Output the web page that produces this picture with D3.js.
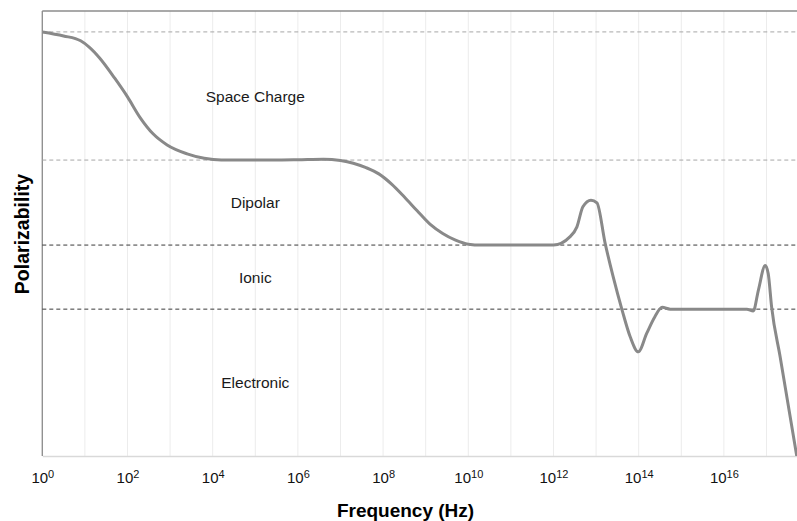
<!DOCTYPE html>
<html>
<head>
<meta charset="utf-8">
<script src="https://cdn.jsdelivr.net/npm/d3@7"></script>
<style>
  html, body { margin: 0; padding: 0; background: #fff; }
  svg { display: block; }
</style>
</head>
<body>
<svg id="chart" width="797" height="521"></svg>
<script>
// Frequency given as log10(Hz); polarizability in arbitrary units.
const logFreq = [0, 0.5, 0.9, 1.1, 1.35, 1.7, 2.0, 2.3, 2.6, 2.93, 3.4, 3.8, 4.2, 5.0, 6.0, 6.6,
  7.0, 7.3, 7.6, 7.9, 8.2, 8.5, 8.8, 9.1, 9.4, 9.7, 10.0, 10.3, 11.0, 12.0, 12.39, 12.55,
  12.69, 12.88, 13.02, 13.21, 13.40, 13.61, 13.80, 13.99, 14.19, 14.38, 14.55, 14.74, 15.5,
  16.54, 16.69, 16.81, 16.97, 17.04, 17.12, 17.32, 17.71];
const polarizability = [95.3, 94.4, 93.3, 91.9, 89.4, 84.9, 80.7, 76.0, 72.4, 69.9, 67.9, 66.9, 66.5, 66.5, 66.6, 66.7,
  66.4, 65.8, 64.8, 63.4, 61.1, 58.2, 55.1, 52.1, 50.0, 48.5, 47.6, 47.4, 47.4, 47.4, 49.3, 51.5,
  56.0, 57.5, 56.9, 47.9, 40.3, 32.8, 26.8, 23.4, 27.6, 31.3, 33.4, 33.0, 33.0,
  33.0, 32.6, 37.3, 42.8, 41.0, 33.5, 22.3, 0.0];

// Mechanism plateaus (dashed reference levels) and their labels.
const mechanisms = ["Space Charge", "Dipolar", "Ionic", "Electronic"];
const levels = [95.3, 66.5, 47.4, 33.0];
const levelStyle = ["light", "light", "dark", "dark"];
const labelAtLogFreq = 5;

const tickExponents = [0, 2, 4, 6, 8, 10, 12, 14, 16];
const gridExponents = d3.range(0, 19);

const W = 797, H = 521;
const margin = { left: 42.3, top: 11, bottom: 65 };
const plotRight = 42.3 + 18 * 42.6;

const svg = d3.select("#chart");

const x = d3.scaleLinear().domain([0, 18]).range([margin.left, plotRight]);
const y = d3.scaleLinear().domain([0, 100]).range([H - margin.bottom, margin.top]);
const yBottom = y(0), yTop = y(100);

svg.append("defs").append("clipPath").attr("id", "plot-clip")
  .append("rect")
  .attr("x", margin.left).attr("y", yTop)
  .attr("width", plotRight - margin.left).attr("height", yBottom - yTop);

// Vertical decade gridlines
svg.append("g")
  .selectAll("line")
  .data(gridExponents)
  .join("line")
  .attr("x1", d => x(d)).attr("x2", d => x(d))
  .attr("y1", yTop).attr("y2", yBottom)
  .attr("stroke", "#ececec")
  .attr("stroke-width", 1);

// Bottom axis with 10^n labels
const xAxis = d3.axisBottom(x)
  .tickValues(tickExponents)
  .tickSize(0)
  .tickSizeOuter(0)
  .tickFormat(() => "");

const gx = svg.append("g")
  .attr("transform", `translate(0,${yBottom})`)
  .call(xAxis);
gx.select(".domain").attr("stroke", "#d9d9d9").attr("stroke-width", 1.3);
gx.selectAll(".tick text").each(function (d) {
  const t = d3.select(this)
    .attr("y", 26.7)
    .attr("dy", null)
    .attr("fill", "#111")
    .attr("font-family", "'Liberation Sans', Arial, sans-serif")
    .attr("font-size", 15)
    .attr("text-anchor", "middle");
  t.text(null);
  t.append("tspan").text("10");
  t.append("tspan").attr("dy", -5).attr("font-size", 11).text(String(d));
});

// Left axis line and top border
svg.append("line")
  .attr("x1", margin.left).attr("x2", margin.left)
  .attr("y1", yTop).attr("y2", yBottom)
  .attr("stroke", "#8c8c8c").attr("stroke-width", 1.3);
svg.append("line")
  .attr("x1", margin.left).attr("x2", plotRight)
  .attr("y1", yTop).attr("y2", yTop)
  .attr("stroke", "#8c8c8c").attr("stroke-width", 1.3);

// Dashed plateau levels
svg.append("g")
  .selectAll("line")
  .data(levels)
  .join("line")
  .attr("x1", margin.left).attr("x2", plotRight)
  .attr("y1", d => y(d)).attr("y2", d => y(d))
  .attr("stroke", (d, i) => levelStyle[i] === "dark" ? "#3a3a3a" : "#a6a6a6")
  .attr("stroke-width", 1)
  .attr("stroke-dasharray", "4,3");

// Mechanism labels, centred in each band
const bandMid = levels.map((v, i) => (v + (i + 1 < levels.length ? levels[i + 1] : 0)) / 2);
svg.append("g")
  .selectAll("text")
  .data(mechanisms)
  .join("text")
  .attr("x", x(labelAtLogFreq))
  .attr("y", (d, i) => y(bandMid[i]))
  .attr("dy", "0.36em")
  .attr("text-anchor", "middle")
  .attr("font-family", "'Liberation Sans', Arial, sans-serif")
  .attr("font-size", 15.5)
  .attr("fill", "#1a1a1a")
  .text(d => d);

// Polarizability curve
const line = d3.line()
  .x(d => x(d[0]))
  .y(d => y(d[1]))
  .curve(d3.curveMonotoneX);

svg.append("path")
  .datum(logFreq.map((f, i) => [f, polarizability[i]]))
  .attr("clip-path", "url(#plot-clip)")
  .attr("fill", "none")
  .attr("stroke", "#898989")
  .attr("stroke-width", 3)
  .attr("stroke-linejoin", "round")
  .attr("stroke-linecap", "round")
  .attr("d", line);

// Axis titles
svg.append("text")
  .attr("x", 405.5)
  .attr("y", 516.5)
  .attr("text-anchor", "middle")
  .attr("font-family", "'Liberation Sans', Arial, sans-serif")
  .attr("font-weight", "bold")
  .attr("font-size", 19)
  .attr("fill", "#000")
  .text("Frequency (Hz)");

svg.append("text")
  .attr("transform", `translate(29,234) rotate(-90)`)
  .attr("text-anchor", "middle")
  .attr("font-family", "'Liberation Sans', Arial, sans-serif")
  .attr("font-weight", "bold")
  .attr("font-size", 19.5)
  .attr("fill", "#000")
  .text("Polarizability");
</script>
</body>
</html>
